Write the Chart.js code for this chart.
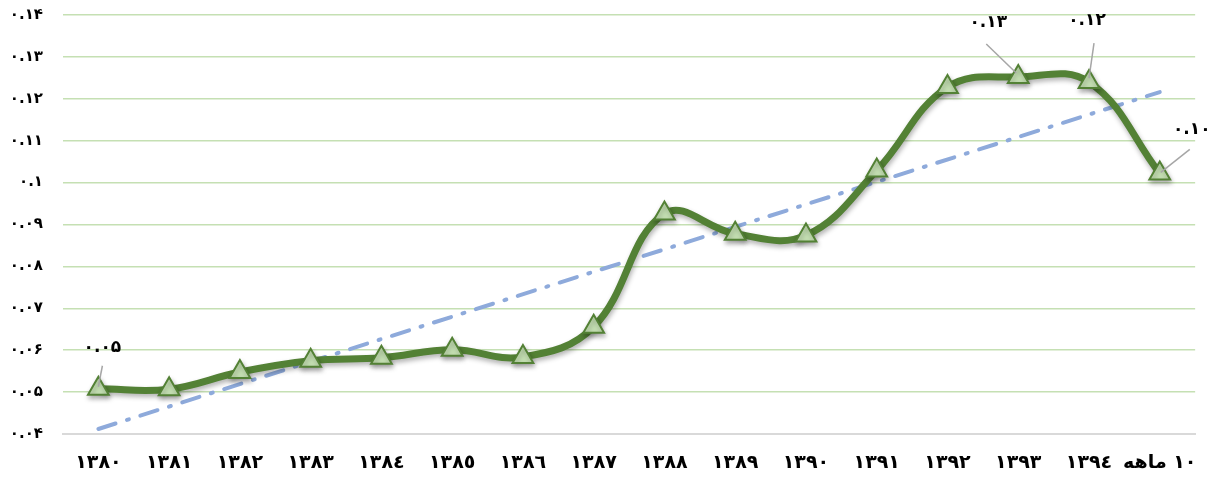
<!DOCTYPE html>
<html>
<head>
<meta charset="utf-8">
<script src="https://cdn.jsdelivr.net/npm/chart.js@4"></script>
<style>
  html, body { margin: 0; padding: 0; background: #fff; }
  #wrap { width: 1215px; height: 478px; position: relative; }
</style>
</head>
<body>
<div id="wrap"><canvas id="ratioChart"></canvas></div>
<script>
const years = [
  "١٣٨٠", "١٣٨١", "١٣٨٢", "١٣٨٣", "١٣٨٤", "١٣٨٥", "١٣٨٦", "١٣٨٧",
  "١٣٨٨", "١٣٨٩", "١٣٩٠", "١٣٩١", "١٣٩٢", "١٣٩٣", "١٣٩٤", "١٠ ماهه",
];

const ratioValues = [
  0.0508, 0.0507, 0.0548, 0.0575, 0.0582, 0.0601, 0.0584, 0.0656,
  0.0926, 0.0878, 0.0874, 0.1029, 0.1228, 0.1252, 0.124, 0.1022,
];

// linear trend, only the two ends
const trendValues = [
  0.0412, null, null, null, null, null, null, null,
  null, null, null, null, null, null, null, 0.1216,
];

const yTicks = [0.04, 0.05, 0.06, 0.07, 0.08, 0.09, 0.1, 0.11, 0.12, 0.13, 0.14];
const yTickLabels = ["۰.۰۴", "۰.۰۵", "۰.۰۶", "۰.۰۷", "۰.۰۸", "۰.۰۹", "۰.۱", "۰.۱۱", "۰.۱۲", "۰.۱۳", "۰.۱۴"];

const labelIndexes = [0, 13, 14, 15];
const labelTexts = ["۰.۰۵", "۰.۱۳", "۰.۱۲", "۰.۱۰"];

const fontFamily = "'DejaVu Sans', sans-serif";
const lineGreen = "#538135";
const markerFill = "#c5e0b3";

// where each callout sits relative to its point
const calloutStyle = [
  { tx: 4, ty: -41, x1: 4, y1: -23, x2: 0, y2: -2 },
  { tx: -30, ty: -54, x1: -32, y1: -33, x2: -2, y2: -4 },
  { tx: -2, ty: -61, x1: 5, y1: -39, x2: 0, y2: -4 },
  { tx: 32, ty: -44, x1: 30, y1: -24, x2: 1, y2: -1 },
];

const shadowPlugin = {
  id: "shadowPlugin",
  beforeDatasetDraw(chart, args) {
    if (args.index !== 0) return;
    const ctx = chart.ctx;
    ctx.save();
    ctx.shadowColor = "rgba(0,0,0,0.3)";
    ctx.shadowBlur = 5;
    ctx.shadowOffsetY = 3;
    ctx.shadowOffsetX = 1;
  },
  afterDatasetDraw(chart, args) {
    if (args.index !== 0) return;
    chart.ctx.restore();
  },
};

const calloutPlugin = {
  id: "calloutPlugin",
  afterDatasetsDraw(chart) {
    const ctx = chart.ctx;
    const meta = chart.getDatasetMeta(0);
    ctx.save();
    labelIndexes.forEach((idx, i) => {
      const pt = meta.data[idx];
      const s = calloutStyle[i];
      ctx.strokeStyle = "#a6a6a6";
      ctx.lineWidth = 1.5;
      ctx.beginPath();
      ctx.moveTo(pt.x + s.x1, pt.y + s.y1);
      ctx.lineTo(pt.x + s.x2, pt.y + s.y2);
      ctx.stroke();
      ctx.fillStyle = "#000";
      ctx.font = "bold 17px " + fontFamily;
      ctx.textAlign = "center";
      ctx.textBaseline = "middle";
      ctx.fillText(labelTexts[i], pt.x + s.tx, pt.y + s.ty);
    });
    ctx.restore();
  },
};

new Chart(document.getElementById("ratioChart"), {
  type: "line",
  data: {
    labels: years,
    datasets: [
      {
        label: "ratio",
        data: ratioValues,
        borderColor: lineGreen,
        borderWidth: 7,
        tension: 0.4,
        pointStyle: "triangle",
        pointRadius: 12,
        pointHoverRadius: 12,
        pointBackgroundColor: markerFill,
        pointBorderColor: lineGreen,
        pointBorderWidth: 2,
        order: 1,
      },
      {
        label: "trend",
        data: trendValues,
        spanGaps: true,
        borderColor: "#8eaadb",
        borderWidth: 4,
        borderDash: [18, 12, 2, 12],
        borderCapStyle: "round",
        pointRadius: 0,
        tension: 0,
        order: 2,
      },
    ],
  },
  options: {
    responsive: true,
    maintainAspectRatio: false,
    animation: false,
    layout: { autoPadding: false, padding: { top: 15, right: 17, left: 0, bottom: 0 } },
    plugins: {
      legend: { display: false },
      title: { display: false },
      tooltip: { enabled: false },
    },
    scales: {
      x: {
        offset: true,
        grid: { display: false, drawTicks: false },
        border: { display: true, color: "#d9d9d9", width: 2 },
        ticks: {
          color: "#000",
          font: { family: fontFamily, size: 19, weight: "bold" },
          padding: 18,
          maxRotation: 0,
          autoSkip: false,
        },
        afterFit(scale) {
          scale.height = 44;
          scale.paddingTop = 0;
          scale.paddingBottom = 0;
        },
      },
      y: {
        min: 0.04,
        max: 0.14,
        afterBuildTicks(scale) {
          scale.ticks = yTicks.map((v) => ({ value: v }));
        },
        grid: {
          color: (c) => (c.tick && c.tick.value <= 0.04 ? "rgba(0,0,0,0)" : "#c5e0b3"),
          lineWidth: 1.5,
          drawTicks: false,
        },
        border: { display: false },
        ticks: {
          color: "#000",
          font: { family: fontFamily, size: 15, weight: "bold" },
          padding: 20,
          callback: (v) => {
            const i = yTicks.findIndex((t) => Math.abs(t - v) < 1e-9);
            return i >= 0 ? yTickLabels[i] : "";
          },
        },
        afterFit(scale) {
          scale.width = 63;
          scale.paddingTop = 0;
          scale.paddingBottom = 0;
        },
      },
    },
  },
  plugins: [shadowPlugin, calloutPlugin],
});
</script>
</body>
</html>
